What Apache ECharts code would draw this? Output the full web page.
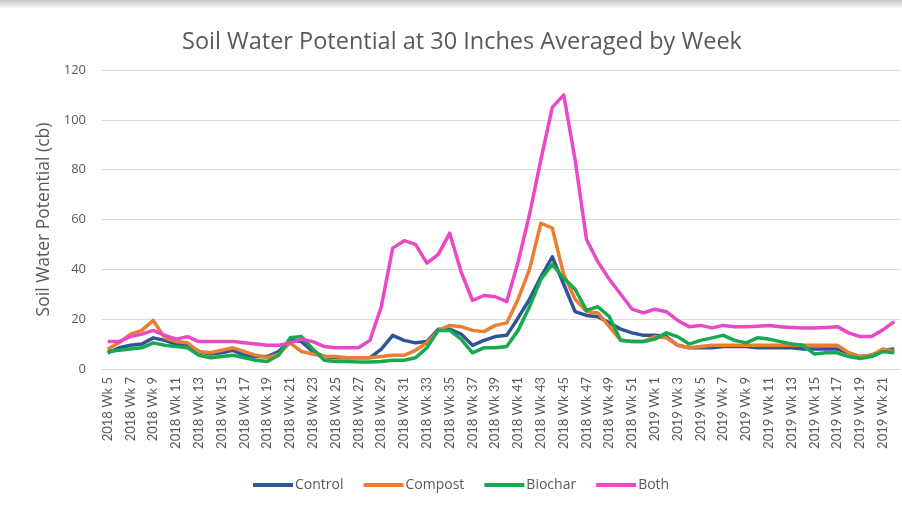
<!DOCTYPE html>
<html>
<head>
<meta charset="utf-8">
<script src="https://cdn.jsdelivr.net/npm/echarts@6/dist/echarts.min.js"></script>
<style>
  html, body { margin: 0; padding: 0; background: #fff; }
  #chart { width: 902px; height: 514px; }
  #edge { position: absolute; left: 0; top: 0; width: 902px; height: 9px;
          background: linear-gradient(#c8c8c8, #ffffff); pointer-events: none; }
</style>
</head>
<body>
<div id="chart"></div>
<div id="edge"></div>
<script>
// ========== 数据 ==========
const weeks2018 = [5, 52];   // 2018 Wk 5 .. Wk 52
const weeks2019 = [1, 22];   // 2019 Wk 1 .. Wk 22

const categories = [];
for (let w = weeks2018[0]; w <= weeks2018[1]; w++) categories.push('2018 Wk ' + w);
for (let w = weeks2019[0]; w <= weeks2019[1]; w++) categories.push('2019 Wk ' + w);

const controlValues = [
    6.5, 8.5, 9.5, 10, 12.5, 11.5, 10, 9.5, 7, 6,
    6.5, 7.5, 5.5, 5, 5, 7, 11.5, 11, 7, 5,
    4.5, 4.5, 4.5, 4.5, 8, 13.5, 11.5, 10.5, 11, 16,
    16, 14, 9.5, 11.5, 13, 13.5, 20.5, 28, 37, 45,
    34, 23, 21.5, 21, 18.5, 16, 14.5, 13.5, 13.5, 13,
    9.5, 8.5, 8.5, 8.5, 9, 9, 9, 8.5, 8.5, 8.5,
    8.5, 8, 8, 8, 8, 6.5, 5, 5.5, 7.5, 8
];
const compostValues = [
    8, 10.5, 14, 15.5, 19.5, 12.5, 11, 10.5, 7, 6.5,
    7.5, 8.5, 7, 5.5, 4.5, 6, 10.5, 7, 6, 5,
    5, 4.5, 4.5, 4.5, 5, 5.5, 5.5, 7.5, 10.5, 15.5,
    17.5, 17, 15.5, 15, 17.5, 18.5, 28, 40, 58.5, 56.5,
    38, 28, 23, 22.5, 17, 11.5, 11, 11, 13, 12.5,
    9.5, 8.5, 9, 9.5, 9.5, 9.5, 9.5, 9.5, 9.5, 9.5,
    9.5, 9.5, 9.5, 9.5, 9.5, 6.5, 5, 5.5, 8, 7
];
const biocharValues = [
    7, 7.5, 8, 8.5, 10.5, 9.5, 9, 8.5, 5.5, 4.5,
    5, 5.5, 4.5, 3.5, 3, 5.5, 12.5, 13, 8, 3.5,
    3, 3, 2.8, 2.8, 3, 3.5, 3.5, 4.5, 8.5, 15.5,
    15.5, 12, 6.5, 8.5, 8.5, 9, 15.5, 25, 36, 42,
    36.5, 32, 23.5, 25, 21, 11.5, 11, 11, 12, 14.5,
    13, 10, 11.5, 12.5, 13.5, 11.5, 10.5, 12.5, 12, 11,
    10, 9.5, 6, 6.5, 6.5, 5, 4.2, 5, 7, 6.5
];
const bothValues = [
    11, 11, 13, 14, 15.5, 13.5, 12, 13, 11, 11,
    11, 11, 10.5, 10, 9.5, 9.5, 10.5, 12, 11, 9,
    8.5, 8.5, 8.5, 11.5, 25, 48.5, 51.5, 50, 42.5, 46,
    54.5, 39, 27.5, 29.5, 29, 27, 43, 62, 84, 105,
    110, 84, 52, 43, 36, 30, 24, 22.5, 24, 23,
    19.5, 17, 17.5, 16.5, 17.5, 17, 17, 17.2, 17.5, 17,
    16.7, 16.5, 16.5, 16.7, 17, 14.5, 13, 13, 15.7, 19
];

const seriesNames = ['Control', 'Compost', 'Biochar', 'Both'];
const seriesColors = ['#2E5597', '#ED7D31', '#16A94F', '#EA48C7'];
const seriesData = [controlValues, compostValues, biocharValues, bothValues];

const yTicks = { min: 0, max: 120, interval: 20 };

// ========== 样式 ==========
const FONT = '"Open Sans", Lato, sans-serif';
const TEXT_COLOR = '#595959';
const GRID_COLOR = '#D9D9D9';

// ========== 图表 ==========
const myChart = echarts.init(document.getElementById('chart'));

const option = {
    backgroundColor: '#fff',
    animation: false,
    title: {
        text: 'Soil Water Potential at 30 Inches Averaged by Week',
        left: 177,
        top: 25,
        textStyle: { color: TEXT_COLOR, fontSize: 23.5, fontWeight: 'normal', fontFamily: FONT }
    },
    legend: {
        left: 248,
        top: 473,
        itemWidth: 40,
        itemHeight: 4,
        itemGap: 20,
        icon: 'rect',
        textStyle: { color: TEXT_COLOR, fontSize: 14, fontFamily: FONT, padding: [0, 0, 0, -3] },
        data: seriesNames
    },
    grid: { left: 102, right: 2, top: 70, bottom: 145 },
    xAxis: {
        type: 'category',
        data: categories,
        boundaryGap: true,
        axisLine: { lineStyle: { color: GRID_COLOR, width: 1 } },
        axisTick: { show: false },
        axisLabel: {
            interval: 1,
            rotate: 90,
            margin: 8,
            color: TEXT_COLOR,
            fontSize: 13,
            fontFamily: 'Lato, sans-serif'
        }
    },
    yAxis: {
        type: 'value',
        min: yTicks.min,
        max: yTicks.max,
        interval: yTicks.interval,
        name: 'Soil Water Potential (cb)',
        nameLocation: 'middle',
        nameGap: 39,
        nameRotate: 90,
        nameTextStyle: { color: TEXT_COLOR, fontSize: 17.5, fontFamily: FONT },
        axisLine: { show: false },
        axisTick: { show: false },
        axisLabel: { color: TEXT_COLOR, fontSize: 13, fontFamily: FONT, margin: 16 },
        splitLine: { lineStyle: { color: GRID_COLOR, width: 1 } }
    },
    series: seriesNames.map((name, i) => ({
        name: name,
        type: 'line',
        data: seriesData[i],
        color: seriesColors[i],
        symbol: 'none',
        lineStyle: { width: 3.5, color: seriesColors[i], join: 'round' }
    }))
};

myChart.setOption(option);
</script>
</body>
</html>
